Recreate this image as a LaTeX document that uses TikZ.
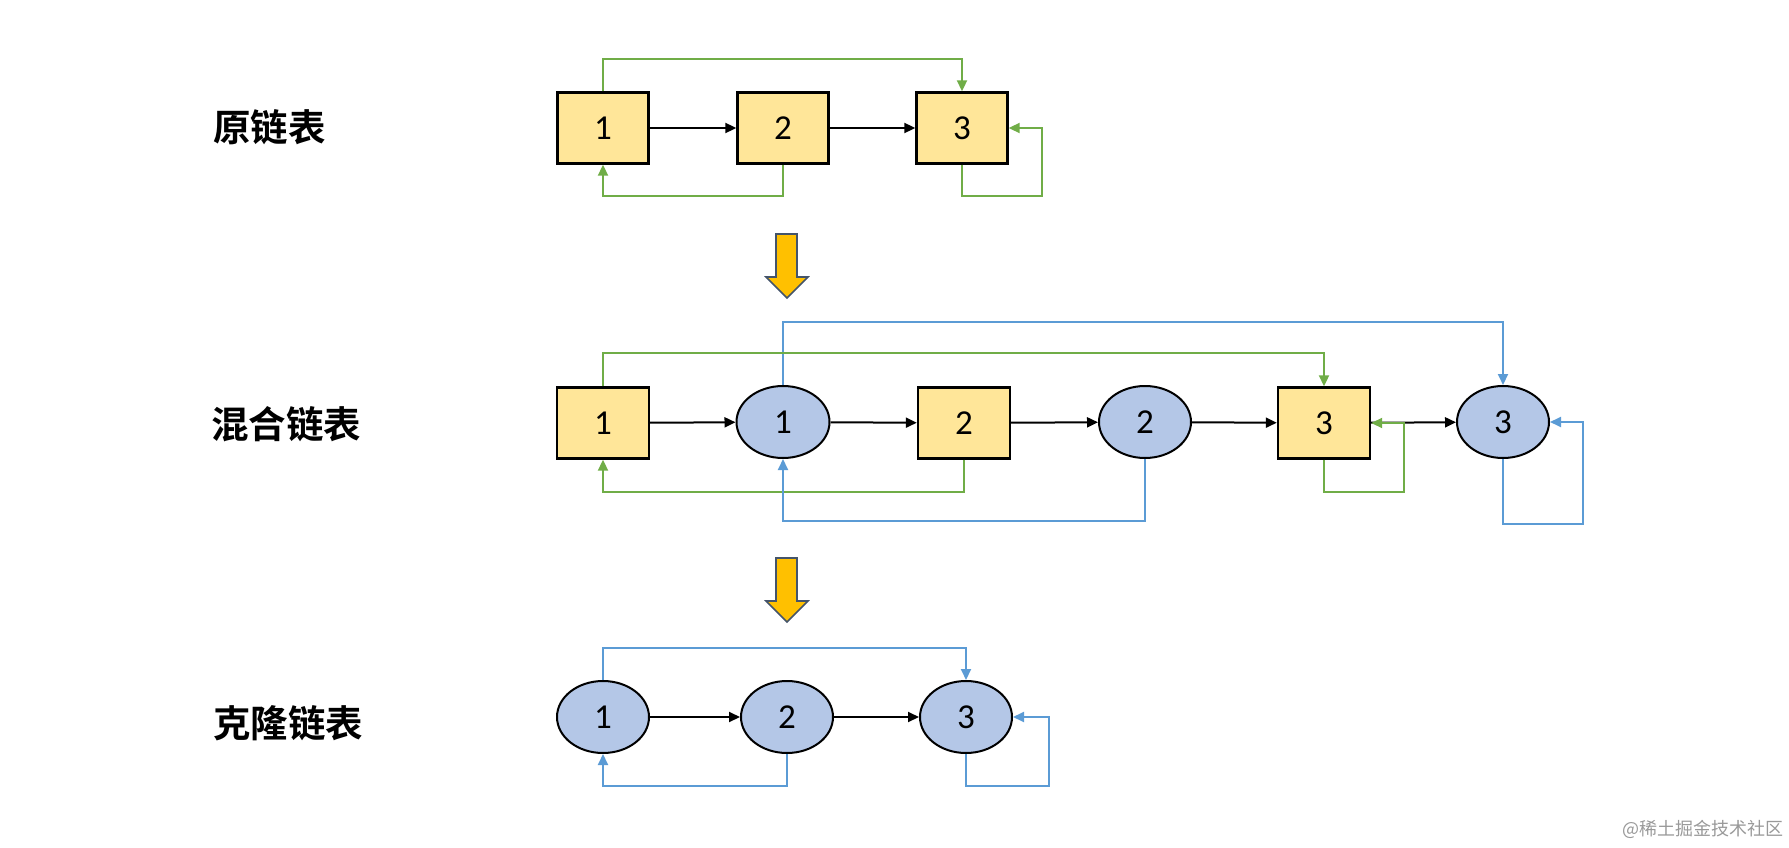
\documentclass[tikz,border=0pt]{standalone}
\usepackage{fontspec}
\usetikzlibrary{arrows.meta,shapes.geometric}
\newfontfamily\cjk{Noto Sans CJK SC}
\newfontfamily\cjkb{Noto Sans CJK SC Bold}
\newfontfamily\numf{Carlito}
\definecolor{boxyel}{HTML}{FFE699}
\definecolor{ellblue}{HTML}{B4C7E7}
\definecolor{lgreen}{HTML}{70AD47}
\definecolor{lblue}{HTML}{5B9BD5}
\definecolor{arrfill}{HTML}{FFC000}
\definecolor{arrline}{HTML}{44546A}
\tikzset{
  sqnode/.style={draw=black, line width=2.4pt, fill=boxyel, minimum width=91pt, minimum height=71pt, inner sep=0pt, font=\numf\fontsize{35}{35}\selectfont},
  elnode/.style={ellipse, draw=black, line width=2pt, fill=ellblue, minimum width=92pt, minimum height=72pt, inner sep=0pt, font=\numf\fontsize{35}{35}\selectfont},
  blk/.style={draw=black, line width=2pt, -{Triangle[length=11pt,width=10pt]}},
  grn/.style={draw=lgreen, line width=2pt, -{Triangle[length=11pt,width=10pt]}},
  blu/.style={draw=lblue, line width=2pt, -{Triangle[length=11pt,width=10pt]}},
  rowlabel/.style={anchor=west, inner sep=0pt, font=\cjkb\fontsize{37.5}{37.5}\selectfont},
  bigarrow/.style={draw=arrline, line width=1.6pt, fill=arrfill, line join=miter}
}
\begin{document}
\begin{tikzpicture}[x=1pt,y=-1pt]
\useasboundingbox (0,0) rectangle (1789,848);
% labels
\node[rowlabel] (l1) at (213,127) {原链表};
\node[rowlabel] (l2) at (211,424) {混合链表};
\node[rowlabel] (l3) at (213,723) {克隆链表};
% top row
\node[sqnode] (a1) at (603,128) {1};
\node[sqnode] (a2) at (783,128) {2};
\node[sqnode] (a3) at (962,128) {3};
\draw[blk] (a1) -- (a2);
\draw[blk] (a2) -- (a3);
\draw[grn] (a1.north) -- (a1.north |- 0,59) -| (a3.north);
\draw[grn] (a2.south) -- (a2.south |- 0,196) -| (a1.south);
\draw[grn] (a3.south) |- (1042,196) |- (a3.east);
% arrow 1
\draw[bigarrow] (776,234) -- (797,234) -- (797,277) -- (808,277) -- (787,298) -- (766,277) -- (776,277) -- cycle;
% middle row
\node[sqnode,minimum width=92pt] (m1) at (603,423) {1};
\node[elnode,minimum width=93pt] (n1) at (783,422) {1};
\node[sqnode,minimum width=92pt] (m2) at (964,423) {2};
\node[elnode,minimum width=92pt] (n2) at (1145,422) {2};
\node[sqnode,minimum width=92pt] (m3) at (1324,423) {3};
\node[elnode,minimum width=92pt] (n3) at (1503,422) {3};
\draw[blk] (m1) -- (n1);
\draw[blk] (n1) -- (m2);
\draw[blk] (m2) -- (n2);
\draw[blk] (n2) -- (m3);
\draw[blk] (m3) -- (n3);
\draw[blu] (n1.north) -- (n1.north |- 0,322) -| (n3.north);
\draw[grn] (m1.north) -- (m1.north |- 0,353) -| (m3.north);
\draw[grn] (m2.south) -- (m2.south |- 0,492) -| (m1.south);
\draw[blu] (n2.south) -- (n2.south |- 0,521) -| (n1.south);
\draw[grn] (m3.south) |- (1404,492) |- (m3.east);
\draw[blu] (n3.south) |- (1583,524) |- (n3.east);
% arrow 2
\draw[bigarrow] (776,558) -- (797,558) -- (797,601) -- (808,601) -- (787,622) -- (766,601) -- (776,601) -- cycle;
% bottom row
\node[elnode,minimum width=92pt,minimum height=72pt] (c1) at (603,717) {1};
\node[elnode,minimum width=92pt,minimum height=72pt] (c2) at (787,717) {2};
\node[elnode,minimum width=92pt,minimum height=72pt] (c3) at (966,717) {3};
\draw[blk] (c1) -- (c2);
\draw[blk] (c2) -- (c3);
\draw[blu] (c1.north) -- (c1.north |- 0,648) -| (c3.north);
\draw[blu] (c2.south) -- (c2.south |- 0,786) -| (c1.south);
\draw[blu] (c3.south) |- (1049,786) |- (c3.east);
% watermark
\node[text=black!40, font=\cjk\fontsize{18}{18}\selectfont, inner sep=0pt] (wm) at (1703,829) {@稀土掘金技术社区};
\end{tikzpicture}
\end{document}
